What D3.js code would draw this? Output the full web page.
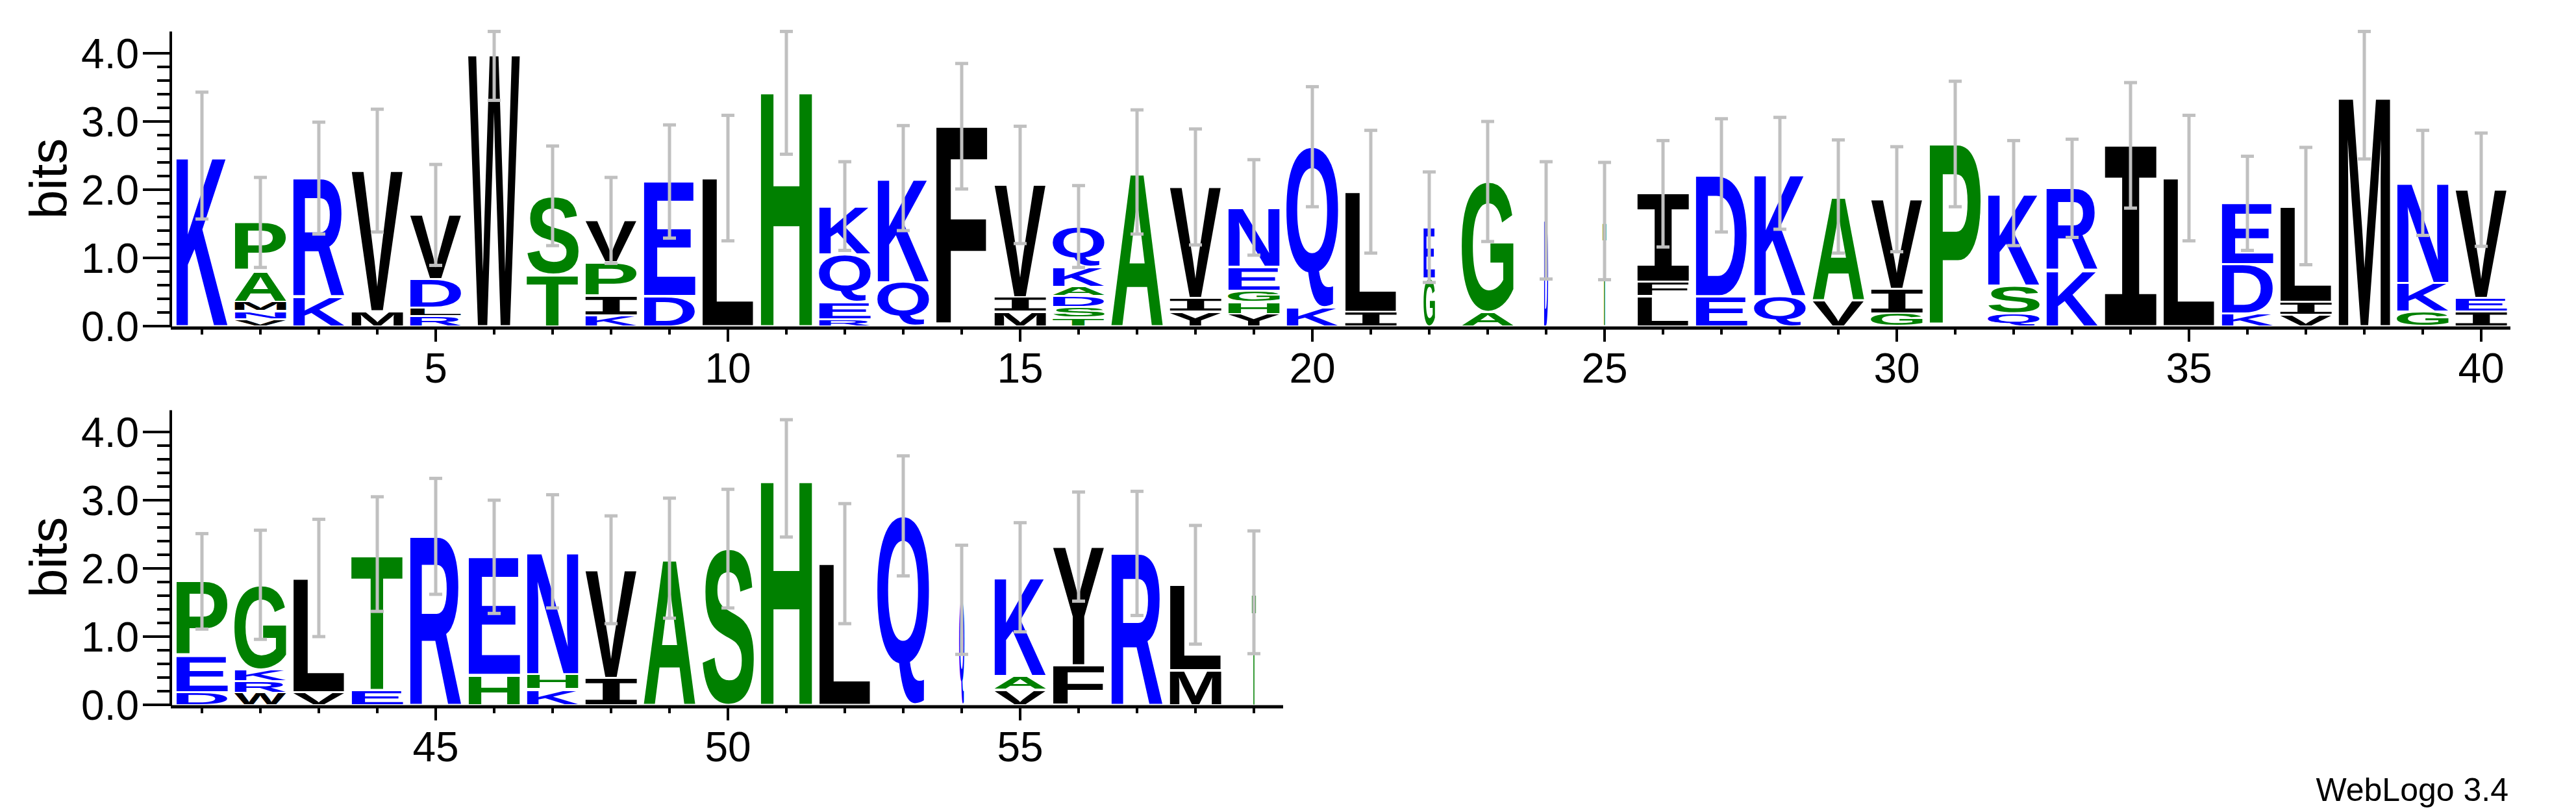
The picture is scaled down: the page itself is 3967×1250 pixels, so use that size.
<!DOCTYPE html>
<html>
<head>
<meta charset="utf-8">
<script src="https://cdn.jsdelivr.net/npm/d3@7"></script>
<style>
  body { margin: 0; background: #fff; }
  text { font-family: "Liberation Sans", Arial, sans-serif; }
</style>
</head>
<body>
<svg id="logo" width="3967" height="1250"></svg>
<script>
// stacks, bottom to top: [letter, bits]
var stacks = [
  [["K",2.50]],
  [["V",0.10],["N",0.12],["M",0.14],["A",0.45],["P",0.71]],
  [["K",0.44],["R",1.73]],
  [["M",0.22],["V",2.06]],
  [["R",0.15],["L",0.12],["D",0.42],["V",0.94]],
  [["W",3.98]],
  [["T",0.76],["S",1.15]],
  [["K",0.16],["I",0.29],["P",0.49],["V",0.61]],
  [["D",0.44],["E",1.68]],
  [["L",2.17]],
  [["H",3.47]],
  [["R",0.10],["E",0.25],["Q",0.70],["K",0.71]],
  [["Q",0.64],["K",1.53]],
  [["F",2.93]],
  [["M",0.21],["I",0.21],["V",1.65]],
  [["T",0.13],["S",0.15],["D",0.16],["A",0.14],["K",0.29],["Q",0.59]],
  [["A",2.26]],
  [["Y",0.21],["I",0.20],["V",1.63]],
  [["Y",0.18],["H",0.18],["G",0.16],["E",0.35],["N",0.87]],
  [["K",0.27],["Q",2.36]],
  [["I",0.21],["L",1.76]],
  [["G",0.70],["E",0.75]],
  [["A",0.21],["G",1.91]],
  [["D",1.55]],
  [["T",1.54]],
  [["L",0.44],["F",0.21],["I",1.29]],
  [["E",0.44],["D",1.77]],
  [["Q",0.44],["K",1.80]],
  [["V",0.38],["A",1.52]],
  [["G",0.19],["I",0.36],["V",1.31]],
  [["P",2.67]],
  [["Q",0.19],["S",0.41],["K",1.35]],
  [["K",0.82],["R",1.20]],
  [["I",2.65]],
  [["L",2.17]],
  [["K",0.19],["D",0.72],["E",0.89]],
  [["V",0.17],["I",0.19],["L",1.40]],
  [["M",3.39]],
  [["G",0.21],["K",0.42],["N",1.47]],
  [["I",0.21],["E",0.20],["V",1.59]],
  [["D",0.19],["E",0.53],["P",1.09]],
  [["W",0.18],["R",0.17],["K",0.17],["G",1.24]],
  [["V",0.19],["L",1.67]],
  [["E",0.22],["T",1.99]],
  [["R",2.47]],
  [["H",0.44],["E",1.73]],
  [["K",0.23],["H",0.22],["N",1.80]],
  [["I",0.40],["V",1.58]],
  [["A",2.15]],
  [["S",2.29]],
  [["H",3.32]],
  [["L",2.07]],
  [["Q",2.77]],
  [["Q",1.54]],
  [["V",0.22],["A",0.20],["K",1.45]],
  [["F",0.58],["Y",1.74]],
  [["R",2.22]],
  [["M",0.51],["L",1.25]],
  [["T",1.65]]
];
// error bar half widths (bits)
var errors = [0.93,0.66,0.82,0.90,0.74,0.67,0.73,0.63,0.83,0.92,0.95,0.65,0.77,0.92,0.86,0.60,0.91,0.85,0.70,0.88,
              0.90,0.81,0.88,0.86,0.86,0.78,0.83,0.82,0.83,0.77,0.92,0.77,0.72,0.92,0.92,0.69,0.86,0.94,0.77,0.83,
              0.70,0.80,0.86,0.84,0.85,0.83,0.83,0.79,0.88,0.87,0.86,0.88,0.88,0.80,0.80,0.80,0.91,0.87,0.90];
// stack width fraction (occupancy)
var widths = {22:0.22, 24:0.08, 25:0.07, 54:0.1, 59:0.08};
var colours = {K:"#0000ff",R:"#0000ff",N:"#0000ff",D:"#0000ff",E:"#0000ff",Q:"#0000ff",
               A:"#008000",P:"#008000",S:"#008000",T:"#008000",G:"#008000",H:"#008000"};
var yTicks = [0,1,2,3,4];
var maxBits = 4.32;

var svg = d3.select("#logo");
var ctx = document.createElement("canvas").getContext("2d");

// the serifed I comes from a mono face
function fontFor(ch) { return ch === "I" ? "'DejaVu Sans Mono'" : "'Liberation Sans'"; }

var rows = [
  {first: 1, last: 40, base: 502},
  {first: 41, last: 59, base: 1085}
];

rows.forEach(function(row) {
  var x = d3.scaleLinear().domain([row.first, row.last]).range([311, 311 + (row.last - row.first) * 90]);
  var y = d3.scaleLinear().domain([0, maxBits]).range([row.base, row.base - maxBits * 105]);
  var g = svg.append("g");

  // letters
  d3.range(row.first, row.last + 1).forEach(function(p) {
    var w = 80 * (widths[p] || 1);
    var acc = 0;
    stacks[p - 1].forEach(function(s) {
      var y0 = y(acc + s[1]), y1 = y(acc);
      acc += s[1];
      var h = y1 - y0 - 3;
      if (h <= 0) return;
      ctx.font = "bold 100px " + fontFor(s[0]);
      var m = ctx.measureText(s[0]);
      var iw = m.actualBoundingBoxLeft + m.actualBoundingBoxRight;
      var ih = m.actualBoundingBoxAscent + m.actualBoundingBoxDescent;
      g.append("text")
        .attr("transform", "translate(" + (x(p) - w / 2) + "," + (y0 + 1.5) + ") scale(" + (w / iw) + "," + (h / ih) + ") translate(" + m.actualBoundingBoxLeft + "," + m.actualBoundingBoxAscent + ")")
        .style("font-family", fontFor(s[0]))
        .style("font-size", "100px").style("font-weight", "bold")
        .attr("fill", colours[s[0]] || "#000")
        .text(s[0]);
    });
    // error bar
    var e = errors[p - 1];
    var lo = Math.max(0, acc - e), hi = Math.min(maxBits, acc + e);
    g.append("line").attr("x1", x(p)).attr("x2", x(p)).attr("y1", y(lo)).attr("y2", y(hi))
      .attr("stroke", "#c0c0c0").attr("stroke-width", 5);
    [lo, hi].forEach(function(v) {
      g.append("line").attr("x1", x(p) - 10).attr("x2", x(p) + 10).attr("y1", y(v)).attr("y2", y(v))
        .attr("stroke", "#c0c0c0").attr("stroke-width", 5);
    });
  });

  // y axis
  g.append("line").attr("x1", 263).attr("x2", 263).attr("y1", y(0) + 2).attr("y2", y(maxBits))
    .attr("stroke", "#000").attr("stroke-width", 4);
  d3.range(0, 21).forEach(function(i) {
    var v = i * 0.2;
    var major = i % 5 === 0;
    g.append("line").attr("x1", 263 - (major ? 43 : 21)).attr("x2", 263).attr("y1", y(v)).attr("y2", y(v))
      .attr("stroke", "#000").attr("stroke-width", 4);
  });
  yTicks.forEach(function(v) {
    g.append("text").attr("x", 214).attr("y", y(v) + 23).attr("text-anchor", "end")
      .style("font-size", "64px").text(v.toFixed(1));
  });
  g.append("text").attr("transform", "translate(102," + (row.base - 227) + ") rotate(-90)")
    .attr("text-anchor", "middle").style("font-size", "80px").text("bits");

  // x axis
  g.append("line").attr("x1", 263).attr("x2", x(row.last + 0.5)).attr("y1", row.base + 3).attr("y2", row.base + 3)
    .attr("stroke", "#000").attr("stroke-width", 5);
  d3.range(row.first, row.last + 1).forEach(function(p) {
    var major = p % 5 === 0;
    g.append("line").attr("x1", x(p)).attr("x2", x(p)).attr("y1", row.base + 3).attr("y2", row.base + (major ? 24 : 13))
      .attr("stroke", "#000").attr("stroke-width", 4);
    if (major) {
      g.append("text").attr("x", x(p)).attr("y", row.base + 87).attr("text-anchor", "middle")
        .style("font-size", "64px").text(p);
    }
  });
});

svg.append("text").attr("x", 3863).attr("y", 1233).attr("text-anchor", "end")
  .style("font-size", "50px").text("WebLogo 3.4");
</script>
</body>
</html>
